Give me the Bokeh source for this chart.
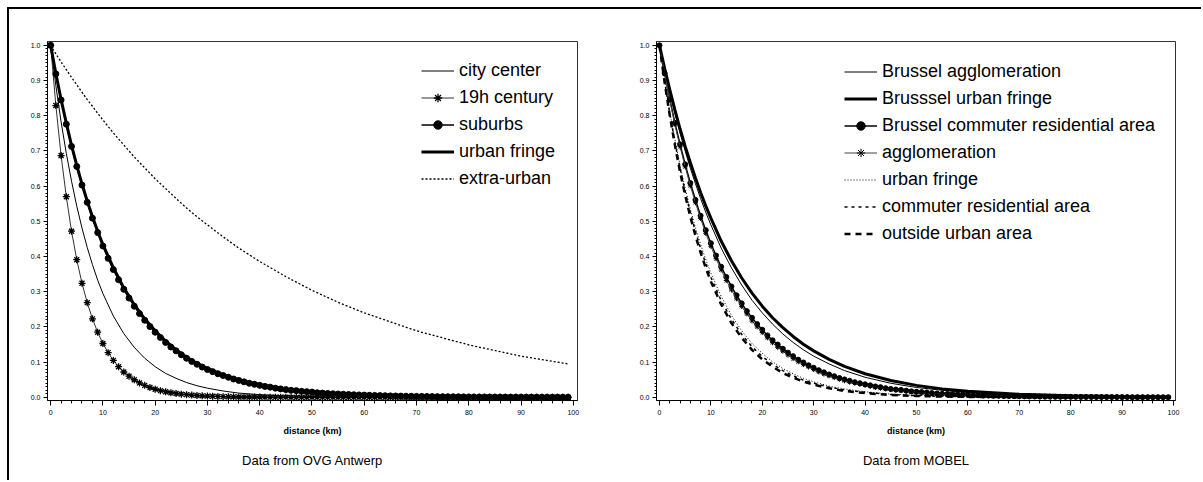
from bokeh.plotting import figure
from bokeh.models import Range1d, FixedTicker, Legend, LegendItem, Title, Div
from bokeh.layouts import row, column
from bokeh.embed import file_html
from bokeh.resources import INLINE

# ---------------- data ----------------
km = list(range(100))
km_line = [0, 1, 2, 3, 4, 5, 6, 7, 8, 9, 10, 12, 14, 16, 18, 20, 22, 24, 26, 28, 30,
           33, 36, 40, 45, 50, 55, 60, 70, 80, 90, 99]

# Left panel: Data from OVG Antwerp
city_center = [1.0, 0.885, 0.783, 0.693, 0.614, 0.543, 0.481, 0.426, 0.377, 0.333, 0.295,
               0.231, 0.181, 0.142, 0.111, 0.087, 0.068, 0.054, 0.042, 0.033, 0.026,
               0.018, 0.012, 0.0076, 0.0041, 0.0022, 0.0012, 0.0007, 0.0002, 0.0001, 0.0, 0.0]
century19 = [1.0, 0.829, 0.687, 0.570, 0.472, 0.391, 0.324, 0.269, 0.223, 0.185,
             0.153, 0.127, 0.105, 0.087, 0.072, 0.060, 0.050, 0.041, 0.034, 0.028,
             0.023, 0.019, 0.016, 0.013, 0.011, 0.009, 0.0076, 0.0063, 0.0052, 0.0043,
             0.0036, 0.003, 0.0025, 0.002, 0.0017, 0.0014, 0.001, 0.001, 0.001, 0.001,
             0.001, 0.0005, 0.0005, 0.0005, 0.0005, 0.0005, 0.0, 0.0, 0.0, 0.0,
             0.0, 0.0, 0.0, 0.0, 0.0, 0.0, 0.0, 0.0, 0.0, 0.0,
             0.0, 0.0, 0.0, 0.0, 0.0, 0.0, 0.0, 0.0, 0.0, 0.0,
             0.0, 0.0, 0.0, 0.0, 0.0, 0.0, 0.0, 0.0, 0.0, 0.0,
             0.0, 0.0, 0.0, 0.0, 0.0, 0.0, 0.0, 0.0, 0.0, 0.0,
             0.0, 0.0, 0.0, 0.0, 0.0, 0.0, 0.0, 0.0, 0.0, 0.0]
suburbs = [1.0, 0.919, 0.845, 0.776, 0.713, 0.656, 0.603, 0.554, 0.509, 0.468,
           0.430, 0.395, 0.363, 0.334, 0.307, 0.282, 0.259, 0.238, 0.219, 0.201,
           0.185, 0.170, 0.156, 0.143, 0.132, 0.121, 0.111, 0.102, 0.094, 0.086,
           0.079, 0.073, 0.067, 0.062, 0.057, 0.052, 0.048, 0.044, 0.040, 0.037,
           0.034, 0.031, 0.029, 0.026, 0.024, 0.022, 0.020, 0.019, 0.017, 0.016,
           0.015, 0.013, 0.012, 0.011, 0.010, 0.0096, 0.0088, 0.0081, 0.0074, 0.0068,
           0.0063, 0.0058, 0.0053, 0.0049, 0.0045, 0.0041, 0.0038, 0.0035, 0.0032, 0.0029,
           0.0027, 0.0025, 0.0023, 0.0021, 0.0019, 0.0017, 0.0016, 0.0015, 0.0014, 0.0012,
           0.0011, 0.0010, 0.0009, 0.0009, 0.0008, 0.0007, 0.0007, 0.0006, 0.0005, 0.0005,
           0.0005, 0.0004, 0.0004, 0.0004, 0.0003, 0.0003, 0.0003, 0.0002, 0.0002, 0.0002]
urban_fringe = [1.0, 0.920, 0.846, 0.779, 0.716, 0.659, 0.606, 0.558, 0.513, 0.472, 0.434,
                0.368, 0.311, 0.263, 0.223, 0.189, 0.160, 0.135, 0.114, 0.097, 0.082,
                0.064, 0.050, 0.036, 0.023, 0.0155, 0.0102, 0.0067, 0.0029, 0.0013, 0.0005, 0.0003]
extra_urban = [1.0, 0.976, 0.953, 0.931, 0.909, 0.888, 0.867, 0.846, 0.827, 0.807, 0.788,
               0.751, 0.717, 0.683, 0.652, 0.621, 0.593, 0.565, 0.538, 0.513, 0.490,
               0.456, 0.424, 0.386, 0.343, 0.304, 0.270, 0.240, 0.189, 0.149, 0.117, 0.095]

# Right panel: Data from MOBEL
bru_agglo = [1.0, 0.931, 0.867, 0.807, 0.751, 0.700, 0.651, 0.607, 0.565, 0.526, 0.490,
             0.424, 0.368, 0.319, 0.276, 0.240, 0.208, 0.180, 0.156, 0.135, 0.117,
             0.095, 0.076, 0.057, 0.040, 0.028, 0.020, 0.014, 0.0067, 0.0033, 0.0016, 0.0008]
bru_fringe = [1.0, 0.935, 0.874, 0.817, 0.763, 0.713, 0.667, 0.623, 0.582, 0.544, 0.509,
              0.444, 0.388, 0.339, 0.296, 0.259, 0.226, 0.198, 0.173, 0.151, 0.132,
              0.108, 0.088, 0.067, 0.048, 0.034, 0.024, 0.017, 0.0088, 0.0045, 0.0023, 0.0012]
bru_commuter = [1.0, 0.921, 0.848, 0.780, 0.719, 0.662, 0.609, 0.561, 0.516, 0.475,
                0.438, 0.403, 0.371, 0.342, 0.315, 0.290, 0.267, 0.245, 0.226, 0.208,
                0.192, 0.176, 0.162, 0.150, 0.138, 0.127, 0.117, 0.107, 0.099, 0.091,
                0.084, 0.077, 0.071, 0.065, 0.060, 0.055, 0.051, 0.047, 0.043, 0.040,
                0.037, 0.034, 0.031, 0.029, 0.026, 0.024, 0.022, 0.021, 0.019, 0.017,
                0.016, 0.015, 0.014, 0.012, 0.011, 0.010, 0.0097, 0.0089, 0.0082, 0.0076,
                0.0070, 0.0064, 0.0059, 0.0054, 0.0050, 0.0046, 0.0043, 0.0039, 0.0036, 0.0033,
                0.0031, 0.0028, 0.0026, 0.0024, 0.0022, 0.0020, 0.0019, 0.0017, 0.0016, 0.0015,
                0.0014, 0.0013, 0.0012, 0.0011, 0.0010, 0.0009, 0.0008, 0.0008, 0.0007, 0.0007,
                0.0006, 0.0006, 0.0005, 0.0005, 0.0004, 0.0004, 0.0004, 0.0003, 0.0003, 0.0003]
agglomeration = [1.0, 0.919, 0.844, 0.775, 0.712, 0.655, 0.601, 0.553, 0.508, 0.466,
                 0.429, 0.394, 0.362, 0.332, 0.305, 0.280, 0.258, 0.237, 0.217, 0.200,
                 0.184, 0.169, 0.155, 0.142, 0.131, 0.120, 0.110, 0.101, 0.093, 0.086,
                 0.079, 0.072, 0.066, 0.061, 0.056, 0.051, 0.047, 0.043, 0.040, 0.037,
                 0.034, 0.031, 0.028, 0.026, 0.024, 0.022, 0.020, 0.019, 0.017, 0.016,
                 0.014, 0.013, 0.012, 0.011, 0.010, 0.0094, 0.0087, 0.0079, 0.0073, 0.0067,
                 0.0062, 0.0057, 0.0052, 0.0048, 0.0044, 0.0040, 0.0037, 0.0034, 0.0031, 0.0029,
                 0.0026, 0.0024, 0.0022, 0.0020, 0.0019, 0.0017, 0.0016, 0.0015, 0.0013, 0.0012,
                 0.0011, 0.0010, 0.0010, 0.0009, 0.0008, 0.0007, 0.0007, 0.0006, 0.0006, 0.0005,
                 0.0005, 0.0005, 0.0004, 0.0004, 0.0004, 0.0003, 0.0003, 0.0003, 0.0003, 0.0002]
fringe = [1.0, 0.901, 0.812, 0.732, 0.659, 0.594, 0.535, 0.482, 0.435, 0.392, 0.353,
          0.287, 0.233, 0.189, 0.153, 0.125, 0.101, 0.082, 0.067, 0.054, 0.044,
          0.032, 0.024, 0.016, 0.0092, 0.0055, 0.0033, 0.0019, 0.0007, 0.0002, 0.0001, 0.0]
commuter = [1.0, 0.898, 0.806, 0.724, 0.651, 0.584, 0.525, 0.471, 0.423, 0.380, 0.341,
            0.275, 0.222, 0.179, 0.144, 0.116, 0.094, 0.076, 0.061, 0.049, 0.040,
            0.029, 0.021, 0.014, 0.0079, 0.0046, 0.0027, 0.0016, 0.0005, 0.0002, 0.0001, 0.0]
outside = [1.0, 0.895, 0.801, 0.717, 0.641, 0.574, 0.513, 0.459, 0.411, 0.368, 0.329,
           0.264, 0.211, 0.169, 0.135, 0.108, 0.087, 0.069, 0.056, 0.045, 0.036,
           0.026, 0.018, 0.012, 0.0067, 0.0039, 0.0022, 0.0013, 0.0004, 0.0001, 0.0, 0.0]

x_ticks = [0, 10, 20, 30, 40, 50, 60, 70, 80, 90, 100]
y_ticks = [0.0, 0.1, 0.2, 0.3, 0.4, 0.5, 0.6, 0.7, 0.8, 0.9, 1.0]
y_tick_labels = {t: f"{t:.1f}" for t in y_ticks}

FONT = "Liberation Sans"


def make_fig(width, x_start, x_end, mb_left, mb_right, caption):
    p = figure(width=width, height=471,
               x_range=Range1d(x_start, x_end), y_range=Range1d(-0.009, 1.011),
               output_backend="svg", toolbar_location=None,
               min_border_left=mb_left, min_border_right=mb_right,
               min_border_top=32, min_border_bottom=80)
    p.xgrid.visible = False
    p.ygrid.visible = False
    p.outline_line_color = "#333333"
    p.outline_line_width = 1
    p.background_fill_color = "white"
    p.border_fill_color = "white"

    xa = p.xaxis[0]
    xa.ticker = FixedTicker(ticks=x_ticks, minor_ticks=list(range(0, 101, 2)))
    xa.axis_label = "distance (km)"
    xa.axis_label_text_font = FONT
    xa.axis_label_text_font_size = "9px"
    xa.axis_label_text_font_style = "bold"
    xa.axis_label_text_color = "black"
    xa.axis_label_standoff = 8
    xa.major_label_text_font = FONT
    xa.major_label_text_font_size = "7px"
    xa.major_label_text_color = "black"
    xa.major_label_standoff = 4
    xa.major_tick_out = 5
    xa.major_tick_in = 0
    xa.minor_tick_out = 3
    xa.minor_tick_in = 0
    xa.axis_line_color = "black"
    xa.major_tick_line_color = "black"
    xa.minor_tick_line_color = "black"

    ya = p.yaxis[0]
    ya.ticker = FixedTicker(ticks=y_ticks, minor_ticks=[i / 100 for i in range(101)])
    ya.major_label_overrides = y_tick_labels
    ya.major_label_text_font = FONT
    ya.major_label_text_font_size = "7px"
    ya.major_label_text_color = "black"
    ya.major_label_standoff = 3
    ya.major_tick_out = 4
    ya.major_tick_in = 0
    ya.minor_tick_out = 2
    ya.minor_tick_in = 0
    ya.axis_line_color = "black"
    ya.major_tick_line_color = "black"
    ya.minor_tick_line_color = "black"

    p.add_layout(Title(text=caption, align="center", text_font=FONT,
                       text_font_size="13px", text_font_style="normal",
                       text_color="black", standoff=24), "below")
    return p


# ---------------- left panel ----------------
p1 = make_fig(592, -0.6, 100.8, 38, 24, "Data from OVG Antwerp")
r_cc = p1.line(km_line, city_center, line_color="black", line_width=1)
r_19l = p1.line(km, century19, line_color="#333333", line_width=1)
r_19m = p1.scatter(km, century19, marker="asterisk", size=7, line_color="black", line_width=1.3)
r_sul = p1.line(km, suburbs, line_color="black", line_width=1.5)
r_sum = p1.scatter(km, suburbs, marker="circle", size=6, fill_color="black", line_color="black")
r_uf = p1.line(km_line, urban_fringe, line_color="black", line_width=3)
r_ex = p1.line(km_line, extra_urban, line_color="black", line_width=1.3, line_dash="2 2")

leg1 = Legend(items=[
    LegendItem(label="city center", renderers=[r_cc]),
    LegendItem(label="19h century", renderers=[r_19l, r_19m]),
    LegendItem(label="suburbs", renderers=[r_sul, r_sum]),
    LegendItem(label="urban fringe", renderers=[r_uf]),
    LegendItem(label="extra-urban", renderers=[r_ex]),
], location=(374, 211))

# ---------------- right panel ----------------
p2 = make_fig(600, -0.58, 100.4, 55, 26, "Data from MOBEL")
q_ba = p2.line(km_line, bru_agglo, line_color="black", line_width=1)
q_bf = p2.line(km_line, bru_fringe, line_color="black", line_width=3)
q_bcl = p2.line(km, bru_commuter, line_color="black", line_width=1.5)
q_bcm = p2.scatter(km, bru_commuter, marker="circle", size=5, fill_color="black", line_color="black")
q_agl = p2.line(km, agglomeration, line_color="#444444", line_width=1)
q_agm = p2.scatter(km, agglomeration, marker="asterisk", size=5, line_color="black", line_width=1)
q_fr = p2.line(km_line, fringe, line_color="black", line_width=1, line_dash="1 2")
q_co = p2.line(km_line, commuter, line_color="black", line_width=1.5, line_dash="3 4")
q_out = p2.line(km_line, outside, line_color="black", line_width=2.5, line_dash="6 5")

leg2 = Legend(items=[
    LegendItem(label="Brussel agglomeration", renderers=[q_ba]),
    LegendItem(label="Brusssel urban fringe", renderers=[q_bf]),
    LegendItem(label="Brussel commuter residential area", renderers=[q_bcl, q_bcm]),
    LegendItem(label="agglomeration", renderers=[q_agl, q_agm]),
    LegendItem(label="urban fringe", renderers=[q_fr]),
    LegendItem(label="commuter residential area", renderers=[q_co]),
    LegendItem(label="outside urban area", renderers=[q_out]),
], location=(188, 156))

for leg, p in ((leg1, p1), (leg2, p2)):
    leg.padding = 0
    leg.margin = 0
    leg.spacing = 6
    leg.glyph_width = 33
    leg.glyph_height = 21
    leg.label_height = 21
    leg.label_standoff = 5
    leg.label_text_font = FONT
    leg.label_text_font_size = "18px"
    leg.label_text_color = "black"
    leg.border_line_color = None
    leg.background_fill_alpha = 0
    p.add_layout(leg)

# outer frame: blank gaps plus black bars along the top and the left edge
gap_top = Div(text="", width=1201, height=7, margin=0)
gap_left = Div(text="", width=7, height=473, margin=0)
left_bar = Div(text="", width=2, height=473, margin=0, styles={"background-color": "black"})
top_bar = Div(text="", width=1192, height=2, margin=0, styles={"background-color": "black"})
layout = column(gap_top, row(gap_left, left_bar, column(top_bar, row(p1, p2))))

html = file_html(layout, INLINE)
# hide page scrollbars so no scrollbar thumb is drawn over the chart
html = html.replace("</head>",
                    "<style>html, body { margin: 0; overflow: hidden; }</style></head>", 1)
with open("out.html", "w") as f:
    f.write(html)
